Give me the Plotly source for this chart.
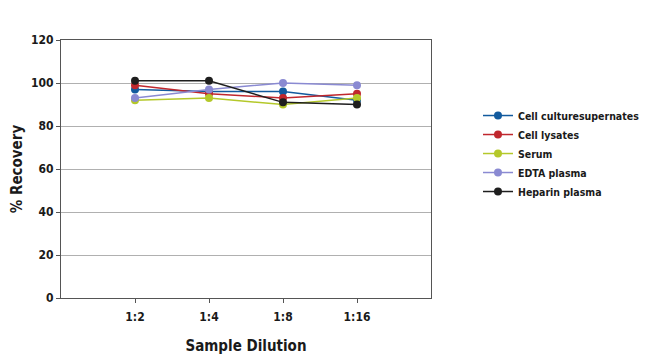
import plotly.graph_objects as go

categories = ["1:2", "1:4", "1:8", "1:16"]
cell_culture = [97, 96, 96, 92]
cell_lysates = [99, 95, 93, 95]
serum = [92, 93, 90, 93]
edta_plasma = [93, 97, 100, 99]
heparin_plasma = [101, 101, 91, 90]

series = [
    ("Cell culturesupernates", cell_culture, "#125a9e"),
    ("Cell lysates", cell_lysates, "#c0272d"),
    ("Serum", serum, "#b4c82a"),
    ("EDTA plasma", edta_plasma, "#8a8ad2"),
    ("Heparin plasma", heparin_plasma, "#1e1e1e"),
]

FONT = "DejaVu Sans Condensed, Liberation Sans Narrow, sans-serif"

fig = go.Figure()
for name, vals, color in series:
    fig.add_trace(go.Scatter(
        x=list(range(len(categories))), y=vals, name=name, mode="lines+markers",
        line=dict(color=color, width=1.5),
        marker=dict(color=color, size=8),
    ))

fig.update_layout(
    width=642, height=351,
    margin=dict(l=53, r=219, t=32, b=61, autoexpand=False),
    paper_bgcolor="white", plot_bgcolor="white",
    font=dict(family=FONT, color="#1a1a1a", size=12),
    showlegend=True,
    legend=dict(x=1.127, y=0.56, xanchor="left", yanchor="middle",
                font=dict(family=FONT, size=10.5, color="#1a1a1a", weight="bold"),
                tracegroupgap=0, itemwidth=30),
    xaxis=dict(
        range=[-1, 4], tickmode="array", tickvals=list(range(len(categories))),
        ticktext=categories, showgrid=False, zeroline=False,
        showline=True, linecolor="#555", linewidth=1, mirror=True,
        ticks="outside", ticklen=4, tickcolor="#555", ticklabelstandoff=4,
        tickfont=dict(family=FONT, size=12, weight="bold"),
        title=dict(text="Sample Dilution", font=dict(family=FONT, size=15, weight="bold"), standoff=17),
    ),
    yaxis=dict(
        range=[0, 120], tickvals=[0, 20, 40, 60, 80, 100, 120],
        showgrid=True, gridcolor="#b0b0b0", gridwidth=1, zeroline=False,
        showline=True, linecolor="#555", linewidth=1, mirror=True,
        ticks="outside", ticklen=4, tickcolor="#555",
        tickfont=dict(family=FONT, size=12, weight="bold"),
        title=dict(text="% Recovery", font=dict(family=FONT, size=15, weight="bold"), standoff=6),
    ),
)

fig.write_html("out.html")
